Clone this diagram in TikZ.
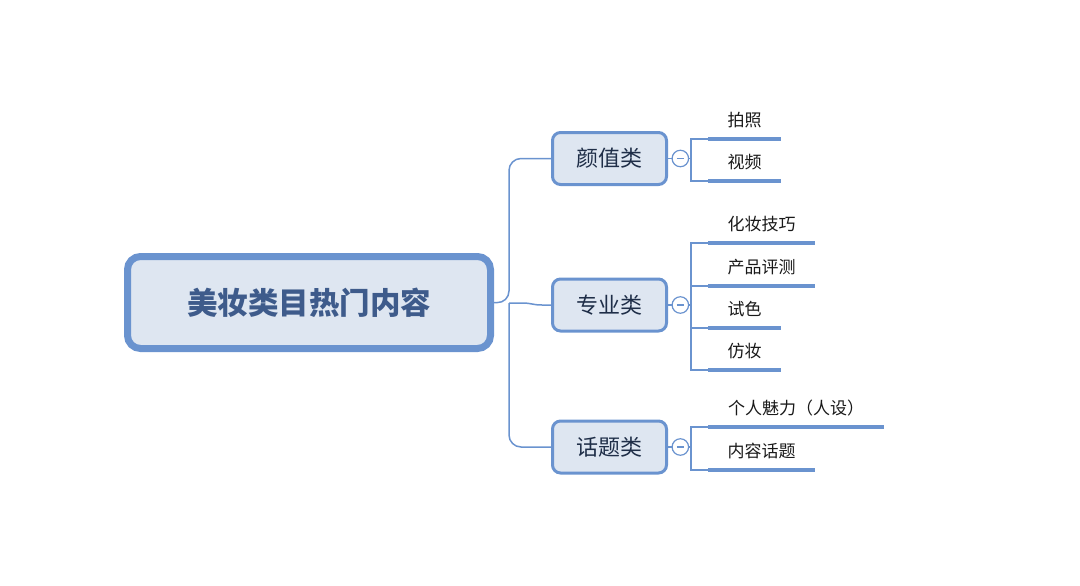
\documentclass[tikz,border=0pt]{standalone}
\usepackage{fontspec}
\newfontfamily\cjk{Noto Sans CJK SC}
\usepackage{tikz}
\usetikzlibrary{positioning,calc}
\definecolor{mapblue}{HTML}{6A93CF}
\definecolor{mapfill}{HTML}{DEE6F1}
\definecolor{roottext}{HTML}{3E5B8B}
\definecolor{cattext}{HTML}{1F2E48}
\tikzset{%
	rootbox/.style  = {draw=mapblue, fill=mapfill, line width=7pt, rounded corners=13pt, minimum width=363pt, minimum height=92pt, font=\cjk\bfseries\fontsize{30.5}{32}\selectfont, text=roottext}, % Root
	catbox/.style   = {draw=mapblue, fill=mapfill, line width=3pt, rounded corners=8pt, minimum width=114pt, minimum height=52pt, font=\cjk\fontsize{22}{24}\selectfont, text=cattext}, % Category
	toggle/.style   = {draw=mapblue, fill=white, circle, line width=1.2pt, minimum size=16.5pt, inner sep=0pt,
		path picture={\draw[mapblue, line width=1.2pt] ([xshift=-3.5pt]path picture bounding box.center) -- ([xshift=3.5pt]path picture bounding box.center);}}, % Collapse
	leaf/.style     = {anchor=south west, inner xsep=17.5pt, inner ysep=0pt, text depth=12pt, text height=15pt, align=left, font=\cjk\fontsize{17}{19}\selectfont, text=black!90}, % Leaf
	link/.style     = {draw=mapblue, line width=1.5pt}, % Connector
	underline/.style= {draw=mapblue, line width=4pt}, % Leaf bar
	waypoint/.style = {coordinate},
}
\begin{document}
\begin{tikzpicture}[x=1pt, y=-1pt]
		\useasboundingbox (0,0) rectangle (1080,586);
		\node[rootbox] (root) at (309,302.5) {美妆类目热门内容};
		\node[catbox] (yz) at (609.5,158.5) {颜值类};
		\node[catbox] (zy) at (609.5,305) {专业类};
		\node[catbox] (ht) at (609.5,447) {话题类};
		\node[waypoint] (hub) at (509,303) {};
		\draw[link, rounded corners=12pt] (root.east) -- (hub) |- (yz.west);
		\draw[link, rounded corners=12pt] (hub) |- (ht.west);
		\draw[link] (hub) -- (522,303) .. controls (532,303) and (532,305) .. (542,305) -- (zy.west);
		% collapse buttons
		\node[toggle, right=3.5pt of yz.east, anchor=west] (t1) {};
		\node[toggle, right=3.5pt of zy.east, anchor=west] (t2) {};
		\node[toggle, right=3.5pt of ht.east, anchor=west] (t3) {};
		\draw[link] (yz.east) -- (t1);
		\draw[link] (zy.east) -- (t2);
		\draw[link] (ht.east) -- (t3);
		\node[waypoint] (b1) at (691,158.5) {};
		\node[waypoint] (b2) at (691,305) {};
		\node[waypoint] (b3) at (691,447) {};
		% leaves
		\node[leaf, minimum width=73pt] (pz) at (708,139) {拍照};
		\node[leaf, minimum width=73pt] (sp) at (708,181) {视频};
		\node[leaf, minimum width=107pt] (hz) at (708,243) {化妆技巧};
		\node[leaf, minimum width=107pt] (cp) at (708,286) {产品评测};
		\node[leaf, minimum width=73pt] (ss) at (708,328) {试色};
		\node[leaf, minimum width=73pt] (fz) at (708,370) {仿妆};
		\node[leaf, minimum width=176pt] (gr) at (708,427) {个人魅力（人设）};
		\node[leaf, minimum width=107pt] (nr) at (708,470) {内容话题};
		\foreach \n in {pz,sp,hz,cp,ss,fz,gr,nr}
			\draw[underline] (\n.south west) -- (\n.south east);
		\draw[link] (t1) -- (b1);
		\draw[link] (t2) -- (b2);
		\draw[link] (t3) -- (b3);
		\draw[link] (pz.south west) -| (b1) |- (sp.south west);
		\draw[link] (hz.south west) -| (b2) |- (fz.south west);
		\draw[link] (b2) |- (cp.south west);
		\draw[link] (b2) |- (ss.south west);
		\draw[link] (gr.south west) -| (b3) |- (nr.south west);
		\end{tikzpicture}
\end{document}
